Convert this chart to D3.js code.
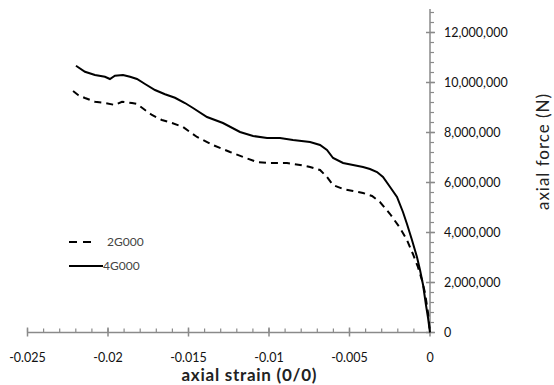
<!DOCTYPE html>
<html><head><meta charset="utf-8">
<script src="https://cdn.jsdelivr.net/npm/d3@7"></script>
<style>body{margin:0;background:#fff}svg{display:block}text{font-family:Lato,"Open Sans",sans-serif}</style>
</head><body><svg id="c" width="554" height="385"></svg>
<script>
const xTicks = [-0.025, -0.02, -0.015, -0.01, -0.005, 0];
const yTicks = [0, 2e6, 4e6, 6e6, 8e6, 10e6, 12e6];
const seriesNames = ["2G000", "4G000"];
const strain2G = [-0.02217,-0.02186,-0.02143,-0.02081,-0.02019,-0.01957,-0.01913,-0.01851,-0.01820,-0.01770,-0.01727,-0.01665,-0.01602,-0.01534,-0.01447,-0.01348,-0.01242,-0.01161,-0.01075,-0.00994,-0.00888,-0.00807,-0.00745,-0.00683,-0.00640,-0.00602,-0.00540,-0.00478,-0.00416,-0.00360,-0.00311,-0.00248,-0.00186,-0.00143,-0.00106,-0.00075,-0.00050,-0.00031,-0.00012,0];
const force2G = [9.66e6,9.50e6,9.38e6,9.23e6,9.18e6,9.10e6,9.23e6,9.18e6,9.14e6,8.90e6,8.70e6,8.50e6,8.38e6,8.22e6,7.82e6,7.50e6,7.22e6,7.02e6,6.82e6,6.78e6,6.78e6,6.70e6,6.62e6,6.50e6,6.22e6,5.90e6,5.74e6,5.66e6,5.58e6,5.46e6,5.22e6,4.74e6,4.18e6,3.70e6,3.14e6,2.62e6,2.10e6,1.58e6,0.78e6,0];
const strain4G = [-0.02199,-0.02143,-0.02081,-0.02019,-0.01988,-0.01957,-0.01907,-0.01863,-0.01820,-0.01770,-0.01708,-0.01646,-0.01584,-0.01522,-0.01472,-0.01385,-0.01286,-0.01180,-0.01099,-0.01012,-0.00932,-0.00851,-0.00745,-0.00683,-0.00640,-0.00602,-0.00540,-0.00478,-0.00416,-0.00373,-0.00329,-0.00292,-0.00248,-0.00205,-0.00168,-0.00143,-0.00112,-0.00081,-0.00062,-0.00043,-0.00025,-0.00012,0];
const force4G = [10.67e6,10.43e6,10.30e6,10.23e6,10.14e6,10.27e6,10.30e6,10.23e6,10.14e6,9.94e6,9.70e6,9.53e6,9.39e6,9.18e6,8.98e6,8.62e6,8.38e6,8.02e6,7.86e6,7.78e6,7.78e6,7.70e6,7.62e6,7.50e6,7.30e6,6.98e6,6.78e6,6.70e6,6.62e6,6.54e6,6.42e6,6.22e6,5.82e6,5.42e6,4.82e6,4.34e6,3.70e6,3.02e6,2.50e6,1.90e6,1.10e6,0.58e6,0];

const svg = d3.select("#c");
const x = d3.scaleLinear().domain([-0.025, 0]).range([27.5, 430]);
const y = d3.scaleLinear().domain([0, 12e6]).range([332.5, 32.5]);
const axisCol = "#8a8a8a";
const X0 = x(0), Y0 = y(0);

// y axis
const ya = svg.append("g");
ya.append("line").attr("x1", X0).attr("x2", X0).attr("y1", Y0).attr("y2", y(12.94e6)).attr("stroke", axisCol).attr("stroke-width", 1.5);
const yMinor = d3.range(0, 12.9e6, 4e5);
ya.selectAll(".ym").data(yMinor).join("line").attr("x1", X0).attr("x2", X0 + 4).attr("y1", d => y(d)).attr("y2", d => y(d)).attr("stroke", axisCol).attr("stroke-width", 1.2);
ya.selectAll(".yM").data(yTicks).join("line").attr("x1", X0 - 4).attr("x2", X0 + 5).attr("y1", d => y(d)).attr("y2", d => y(d)).attr("stroke", axisCol).attr("stroke-width", 1.5);
ya.selectAll("text").data(yTicks).join("text").attr("x", 444).attr("y", d => y(d)).attr("dy", "0.36em").attr("font-size", 12.5).attr("fill", "#111").text(d3.format(","));

// x axis
const xa = svg.append("g");
xa.append("line").attr("x1", x(-0.025)).attr("x2", X0).attr("y1", Y0).attr("y2", Y0).attr("stroke", axisCol).attr("stroke-width", 1.5);
const xMinor = d3.range(-25, 1, 1).map(d => d / 1000);
xa.selectAll(".xm").data(xMinor).join("line").attr("x1", d => x(d)).attr("x2", d => x(d)).attr("y1", Y0 - 4).attr("y2", Y0).attr("stroke", axisCol).attr("stroke-width", 1.2);
xa.selectAll(".xM").data(xTicks).join("line").attr("x1", d => x(d)).attr("x2", d => x(d)).attr("y1", Y0 - 5).attr("y2", Y0 + 4).attr("stroke", axisCol).attr("stroke-width", 1.5);
xa.selectAll("text").data(xTicks).join("text").attr("x", d => x(d)).attr("y", 362).attr("text-anchor", "middle").attr("font-size", 12.5).attr("fill", "#111").text(d => d === 0 ? "0" : String(d));

// titles
svg.append("text").attr("x", 249).attr("y", 380.5).attr("text-anchor", "middle").attr("font-size", 17).attr("font-weight", "bold").attr("fill", "#222")
  .attr("textLength", 135).attr("lengthAdjust", "spacing").text("axial strain (0/0)");
svg.append("text").attr("transform", "translate(549,152) rotate(-90)").attr("text-anchor", "middle").attr("font-size", 17).attr("fill", "#222")
  .attr("textLength", 116).attr("lengthAdjust", "spacing").text("axial force (N)");

// lines
const line = d3.line().x(d => x(d[0])).y(d => y(d[1]));
const d2 = strain2G.map((s, i) => [s, force2G[i]]);
const d4 = strain4G.map((s, i) => [s, force4G[i]]);
svg.append("path").datum(d2).attr("d", line).attr("fill", "none").attr("stroke", "#000").attr("stroke-width", 2).attr("stroke-dasharray", "7,5");
svg.append("path").datum(d4).attr("d", line).attr("fill", "none").attr("stroke", "#000").attr("stroke-width", 2);

// legend
const lg = svg.append("g");
lg.append("line").attr("x1", 69).attr("x2", 94).attr("y1", 242).attr("y2", 242).attr("stroke", "#000").attr("stroke-width", 2).attr("stroke-dasharray", "8,6");
lg.append("text").attr("x", 107).attr("y", 242).attr("dy", "0.36em").attr("font-size", 12).attr("fill", "#444").text(seriesNames[0]);
lg.append("line").attr("x1", 69).attr("x2", 103).attr("y1", 266).attr("y2", 266).attr("stroke", "#000").attr("stroke-width", 2);
lg.append("text").attr("x", 103).attr("y", 266).attr("dy", "0.36em").attr("font-size", 12).attr("fill", "#444").text(seriesNames[1]);
</script></body></html>
